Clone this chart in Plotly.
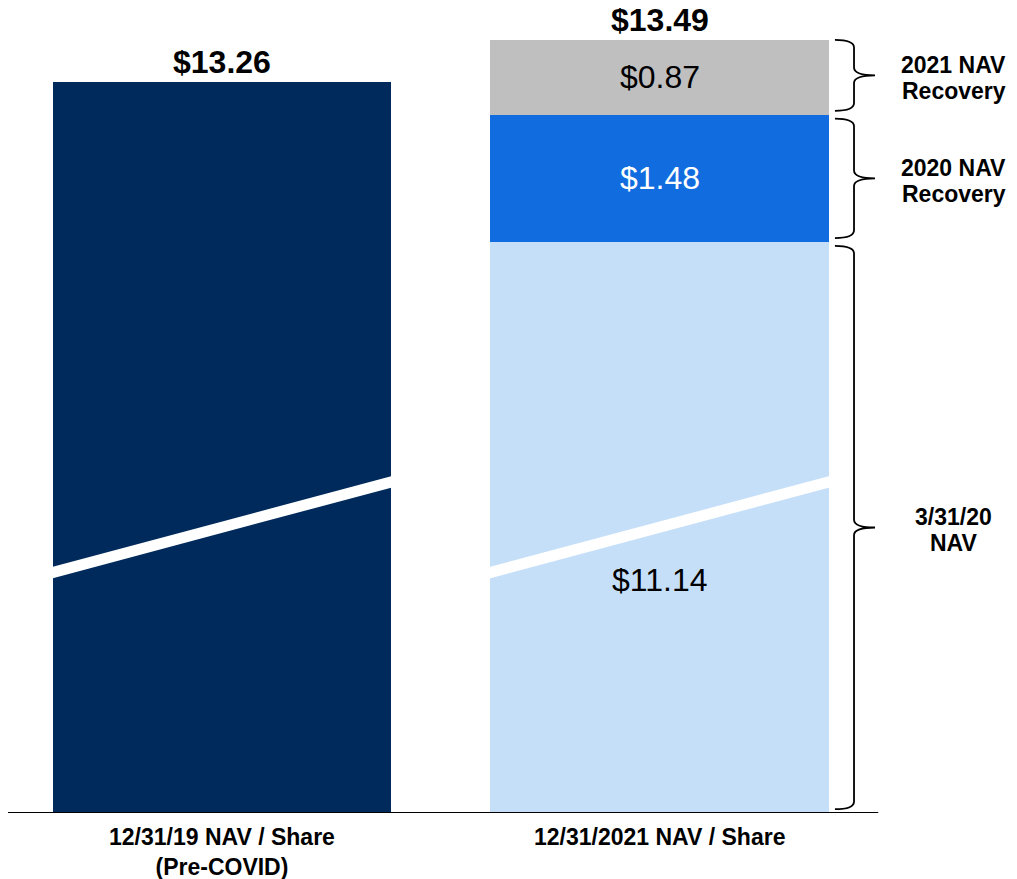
import plotly.graph_objects as go

# bar labels and values (NAV per share)
categories = ["12/31/19 NAV / Share<br>(Pre-COVID)", "12/31/2021 NAV / Share"]
nav_totals = [13.26, 13.49]
base_values = [13.26, 11.14]          # pre-covid NAV, 3/31/20 NAV
recovery_2020 = [1.48]
recovery_2021 = [0.87]
# the value axis is broken (white slash), so the base segments are drawn shorter
base_drawn = [8.50, 6.64]
brace_labels = [["3/31/20", "NAV"], ["2020 NAV", "Recovery"], ["2021 NAV", "Recovery"]]

FONT = "Liberation Sans, Arial, sans-serif"
NAVY = "#002a5c"
LIGHT = "#c6dff9"
BLUE = "#116ce0"
GREY = "#bfbfbf"

xpos = [0, 1]
bar_w = 0.7726

fig = go.Figure()
fig.add_trace(go.Bar(x=xpos, y=base_drawn, width=bar_w,
                     marker=dict(color=[NAVY, LIGHT], line=dict(width=0))))
fig.add_trace(go.Bar(x=[1], y=recovery_2020, width=bar_w,
                     marker=dict(color=BLUE, line=dict(width=0))))
fig.add_trace(go.Bar(x=[1], y=recovery_2021, width=bar_w,
                     marker=dict(color=GREY, line=dict(width=0))))

# segment boundaries of the stacked bar
b1 = base_drawn[1]
b2 = b1 + recovery_2020[0]
b3 = b2 + recovery_2021[0]
tops = [base_drawn[0], b3]

ann = []
for i in range(2):
    ann.append(dict(x=xpos[i], y=tops[i], yshift=20, yanchor="middle", showarrow=False,
                    text="<b>$%.2f</b>" % nav_totals[i],
                    font=dict(family=FONT, size=32, color="black")))
    ann.append(dict(x=xpos[i], y=0, yshift=-9, yanchor="top", showarrow=False,
                    text="<b>%s</b>" % categories[i],
                    font=dict(family=FONT, size=23, color="black")))

ann.append(dict(x=1, y=(b2 + b3) / 2, showarrow=False, text="$%.2f" % recovery_2021[0],
                font=dict(family=FONT, size=32, color="black")))
ann.append(dict(x=1, y=(b1 + b2) / 2, showarrow=False, text="$%.2f" % recovery_2020[0],
                font=dict(family=FONT, size=32, color="white")))
ann.append(dict(x=1, y=b1 / 2, yshift=-53, showarrow=False, text="$%.2f" % base_values[1],
                font=dict(family=FONT, size=32, color="black")))

shapes = []
# axis baseline
shapes.append(dict(type="line", x0=-0.5, x1=1.5, y0=0, y1=0,
                   line=dict(color="black", width=2)))

# axis-break slashes
slope = (3.849 - 2.797) / bar_w
for xc in xpos:
    xa = xc - bar_w / 2 - 0.012
    xb = xc + bar_w / 2 + 0.012
    shapes.append(dict(type="line", x0=xa, x1=xb,
                       y0=2.797 - 0.012 * slope, y1=3.849 + 0.012 * slope,
                       line=dict(color="white", width=11)))

# curly braces next to the stacked bar
x_end, x_line, x_tip = 1.401, 1.4446, 1.4926
r = 0.09
gap = 0.045
spans = [(0 + gap, b1 - gap), (b1 + gap, b2 - gap), (b2 + gap, b3)]
for (lo, hi), lines in zip(spans, brace_labels):
    mid = (lo + hi) / 2
    path = (f"M {x_end},{hi} Q {x_line},{hi} {x_line},{hi - r} "
            f"L {x_line},{mid + r} Q {x_line},{mid} {x_tip},{mid} "
            f"Q {x_line},{mid} {x_line},{mid - r} L {x_line},{lo + r} "
            f"Q {x_line},{lo} {x_end},{lo}")
    shapes.append(dict(type="path", path=path, line=dict(color="black", width=1.8)))
    for k, txt in enumerate(lines):
        ann.append(dict(x=1.673, y=mid, yshift=10 - 26 * k, showarrow=False,
                        text="<b>%s</b>" % txt,
                        font=dict(family=FONT, size=23, color="black")))

# the page adds an 8px body margin, so the plot area is shifted up/left by that much
fig.update_layout(
    width=1017, height=879,
    margin=dict(l=0, r=0, t=0, b=74),
    barmode="stack",
    showlegend=False,
    plot_bgcolor="white", paper_bgcolor="white",
    xaxis=dict(range=[-0.4891, 1.8354], visible=False),
    yaxis=dict(range=[0, 9.3605], visible=False),
    annotations=ann,
    shapes=shapes,
)

fig.write_html("out.html")
